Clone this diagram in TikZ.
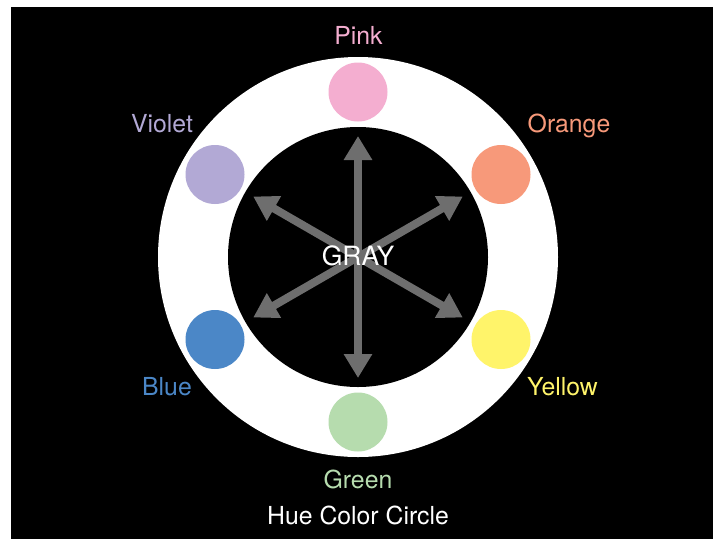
\documentclass[tikz,border=0pt]{standalone}
\usepackage{fontspec}
\setmainfont{TeX Gyre Heros}
\usetikzlibrary{arrows.meta}
\definecolor{cpink}{HTML}{F4AED0}
\definecolor{corange}{HTML}{F7997A}
\definecolor{cyellow}{HTML}{FFF46A}
\definecolor{cgreen}{HTML}{B6DCAE}
\definecolor{cblue}{HTML}{4B87C7}
\definecolor{cviolet}{HTML}{B2A9D5}
\definecolor{cgray}{HTML}{6E6E6E}
\tikzset{
  hue/.style={circle, fill=#1, draw=none, minimum size=59pt, inner sep=0pt},
  huelabel/.style={text=#1, anchor=base, font=\fontsize{24.8}{27}\selectfont, inner sep=0pt},
  grayarrow/.style={draw=cgray, line width=8pt, -{Triangle[width=27pt,length=24pt]}}
}
\begin{document}
\begin{tikzpicture}[x=1pt,y=-1pt]
\useasboundingbox (0,0) rectangle (720,539);
\fill[white] (0,0) rectangle (720,539);
\fill[black] (11,7) rectangle (713,539);
\coordinate (c) at (358,257);
\fill[white] (c) circle[radius=200];
\fill[black] (c) circle[radius=130];
% hue dots
\node[hue=cpink]   (pink)   at (358,92) {};
\node[hue=corange] (orange) at (501,174.5) {};
\node[hue=cyellow] (yellow) at (501,339.5) {};
\node[hue=cgreen]  (green)  at (358,422) {};
\node[hue=cblue]   (blue)   at (215,339.5) {};
\node[hue=cviolet] (violet) at (215,174.5) {};
% arrows
\foreach \a [count=\i] in {90,30,-30,-90,-150,150}{
  \coordinate (t\i) at ([shift={(\a:121)}]c);
  \draw[grayarrow] (c) -- (t\i);
}
% labels
\node[huelabel=cpink]   (lpink)   at (358.5,44) {Pink};
\node[huelabel=corange] (lorange) at (569,132) {Orange};
\node[huelabel=cviolet] (lviolet) at (162,132) {Violet};
\node[huelabel=cblue]   (lblue)   at (167,395) {Blue};
\node[huelabel=cyellow] (lyellow) at (562.5,395) {Yellow};
\node[huelabel=cgreen]  (lgreen)  at (358,488) {Green};
\node[huelabel=white]   (title)   at (358,524) {Hue Color Circle};
\node[text=white, anchor=base, inner sep=0pt, font=\fontsize{26.5}{29}\selectfont] (gray) at (358,265) {GRAY};
\end{tikzpicture}
\end{document}
